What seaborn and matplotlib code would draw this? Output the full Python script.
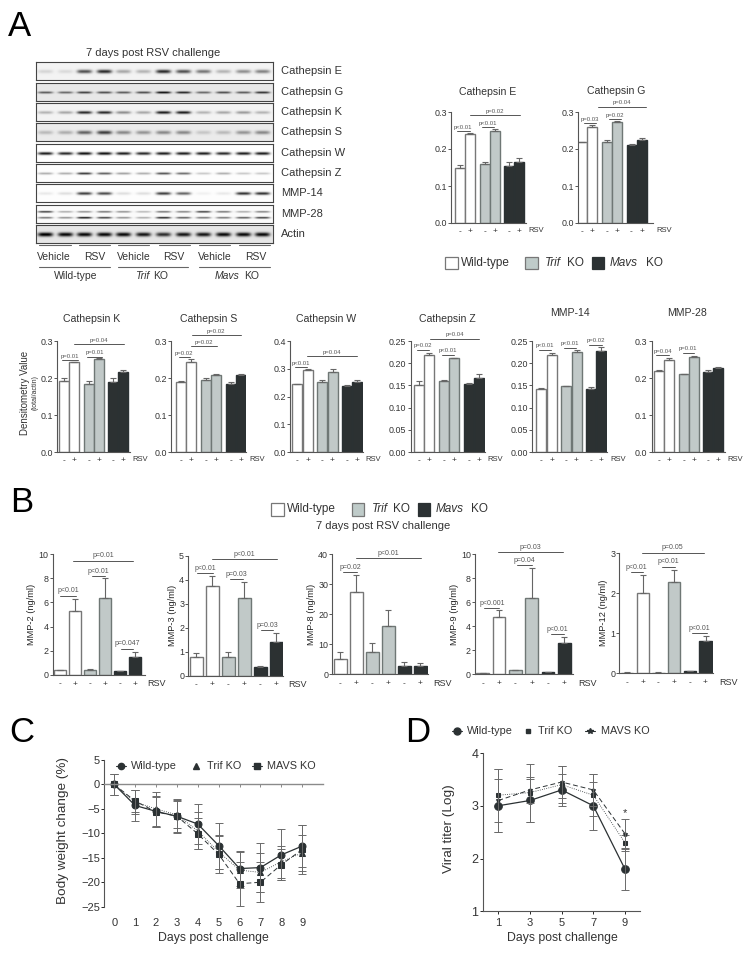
"""Multi-panel figure: cathepsin/MMP densitometry, ELISA, weight and viral titer."""

import matplotlib.pyplot as plt
from matplotlib.patches import Rectangle
import numpy as np
import pandas as pd
import seaborn as sns

W, H = 753, 956
TEXT = "#333333"
AXIS = "#555555"
WHITE, GREY, DARK = "#ffffff", "#bfcbc9", "#2b3133"
EDGES = {"Wild-type": "#777777", "Trif KO": "#6f7775", "Mavs KO": "#2b3133"}
PALETTE = {"Wild-type": WHITE, "Trif KO": GREY, "Mavs KO": DARK}

# blot lanes
BLOT_LABELS = ["Cathepsin E", "Cathepsin G", "Cathepsin K", "Cathepsin S", "Cathepsin W",
               "Cathepsin Z", "MMP-14", "MMP-28", "Actin"]
BLOT_E = [.12, .10, .65, .80, .30, .25, .80, .65, .50, .25, .40, .45]
BLOT_G = [.55, .50, .65, .60, .55, .60, .85, .75, .50, .60, .55, .70]
BLOT_K = [.25, .30, .80, .80, .40, .30, .85, .85, .25, .30, .35, .25]
BLOT_S = [.20, .25, .55, .70, .40, .35, .40, .40, .15, .20, .35, .40]
BLOT_W = [.90, .85, .95, .95, .90, .85, .90, .90, .90, .85, .90, .90]
BLOT_Z = [.30, .30, .75, .60, .35, .30, .65, .55, .20, .30, .20, .20]
BLOT_14 = [.08, .12, .75, .70, .12, .12, .75, .60, .05, .08, .80, .80]
BLOT_28_UP = [.70, .30, .40, .50, .40, .25, .50, .45, .70, .50, .30, .45]
BLOT_28_LOW = [.50, .40, .85, .70, .40, .30, .80, .60, .50, .50, .60, .70]
BLOT_ACTIN = [.95, .90, .90, .90, .90, .85, .75, .85, .85, .90, .90, .90]
BLOT_BG = [.95, .91, .95, .92, 1.0, .99, .99, .98, .90]

# densitometry
GROUPS = ["Wild-type", "Wild-type", "Trif KO", "Trif KO", "Mavs KO", "Mavs KO"]
TREATMENT = ["-", "+", "-", "+", "-", "+"]
CAT_E = [.150, .240, .160, .250, .155, .165]
CAT_E_ERR = [.006, .004, .004, .005, .009, .010]
CAT_G = [.218, .260, .219, .272, .212, .225]
CAT_G_ERR = [.002, .004, .005, .003, .001, .006]
CAT_K = [.193, .243, .185, .251, .189, .215]
CAT_K_ERR = [.006, .001, .006, .002, .011, .006]
CAT_S = [.190, .243, .194, .208, .184, .207]
CAT_S_ERR = [.001, .008, .005, .002, .004, .004]
CAT_W = [.245, .295, .253, .288, .238, .253]
CAT_W_ERR = [.001, .004, .008, .012, .002, .008]
CAT_Z = [.152, .219, .161, .211, .153, .166]
CAT_Z_ERR = [.007, .005, .002, .001, .003, .010]
MMP14 = [.143, .219, .148, .226, .141, .228]
MMP14_ERR = [.0005, .005, .001, .004, .005, .008]
MMP28 = [.218, .250, .210, .258, .216, .226]
MMP28_ERR = [.004, .005, .0005, .002, .005, .004]

# ELISA
MMP2 = [.40, 5.30, .45, 6.40, .30, 1.45]
MMP2_ERR = [.05, 1.0, .08, 1.65, .05, .45]
MMP3 = [.80, 3.72, .80, 3.25, .38, 1.40]
MMP3_ERR = [.13, .45, .17, .67, .03, .37]
MMP8 = [5.0, 27.5, 7.3, 16.2, 2.7, 2.7]
MMP8_ERR = [2.5, 5.7, 3.1, 5.1, 1.4, 1.1]
MMP9 = [.10, 4.75, .35, 6.40, .17, 2.65]
MMP9_ERR = [.02, .60, .05, 2.45, .05, .50]
MMP12 = [.02, 2.02, .02, 2.28, .05, .80]
MMP12_ERR = [.005, .44, .005, .30, .01, .14]

# body weight
DAYS_C = [0, 1, 2, 3, 4, 5, 6, 7, 8, 9]
WEIGHT_WT = [0, -4.3, -5.5, -6.5, -8.1, -12.5, -17.2, -17.0, -14.4, -12.6]
WEIGHT_WT_ERR = [2.1, 3.2, 3.1, 3.3, 4.1, 4.7, 3.6, 5.0, 5.2, 4.3]
WEIGHT_TRIF = [0, -3.6, -5.0, -6.2, -9.5, -13.8, -17.5, -18.0, -15.8, -14.0]
WEIGHT_TRIF_ERR = [2.1, 2.5, 3.5, 2.8, 3.8, 3.5, 3.6, 4.0, 3.3, 3.6]
WEIGHT_MAVS = [0, -3.4, -5.6, -6.5, -10.1, -14.3, -20.3, -20.0, -16.4, -13.3]
WEIGHT_MAVS_ERR = [2.1, 2.3, 3.0, 3.5, 3.2, 3.8, 4.5, 4.1, 3.2, 5.0]

# viral titer
DAYS_D = [1, 3, 5, 7, 9]
TITER_WT = [3.0, 3.1, 3.3, 3.0, 1.8]
TITER_WT_ERR = [.50, .40, .30, .45, .40]
TITER_TRIF = [3.2, 3.25, 3.4, 3.2, 2.3]
TITER_TRIF_ERR = [.50, .55, .35, .40, .15]
TITER_MAVS = [3.1, 3.3, 3.45, 3.3, 2.47]
TITER_MAVS_ERR = [.60, .25, .30, .30, .28]

PATTERN_A = np.array([0, 10.3, 25, 35.2, 49.5, 59.7])

sns.set_style("ticks")
plt.rcParams["font.family"] = ["Liberation Sans", "DejaVu Sans"]
plt.rcParams["axes.edgecolor"] = AXIS
plt.rcParams["text.color"] = TEXT
plt.rcParams["xtick.labelcolor"] = TEXT
plt.rcParams["ytick.labelcolor"] = TEXT

fig = plt.figure(figsize=(W / 100, H / 100), dpi=100, facecolor="white")


def px_axes(left, top, right, bottom):
    return fig.add_axes([left / W, 1 - bottom / H, (right - left) / W, (bottom - top) / H])


def label(x, y, s, size=8, ha="left", va="center", **kw):
    fig.text(x / W, 1 - y / H, s, fontsize=size, ha=ha, va=va, **kw)


def swatch(x0, y0, x1, y1, color, edge):
    fig.add_artist(Rectangle((x0 / W, 1 - y1 / H), (x1 - x0) / W, (y1 - y0) / H, facecolor=color,
                             edgecolor=edge, lw=0.9, transform=fig.transFigure))


def hline(x0, x1, y, color="#666666", lw=0.8):
    fig.add_artist(plt.Line2D([x0 / W, x1 / W], [1 - y / H, 1 - y / H], color=color, lw=lw,
                              transform=fig.transFigure))


def marker_key(x, y, marker, size):
    fig.add_artist(plt.Line2D([x / W], [1 - y / H], color="#2b3133", marker=marker, markersize=size,
                              transform=fig.transFigure))


def strip_image(bands, bg, heights, thick):
    # one blot strip, soft bands around each lane centre
    rows, cols = 18, 237
    lane_x = np.array([9, 29, 48, 68, 87, 107, 127, 147, 167, 187, 207, 226])
    yy, xx = np.mgrid[0:rows, 0:cols]
    img = np.full((rows, cols), float(bg))
    for values, frac in zip(bands, heights):
        for cx, v in zip(lane_x, values):
            img -= v * 0.95 * np.exp(-((xx - cx) / 7.5) ** 4 - ((yy - rows * frac) / thick) ** 2)
    return np.clip(img, 0, 1)


def draw_blot():
    tops = [62, 83, 103, 123, 144, 164, 184, 205, 225]
    series = [BLOT_E, BLOT_G, BLOT_K, BLOT_S, BLOT_W, BLOT_Z, BLOT_14, None, BLOT_ACTIN]
    thick = [1.9, 1.2, 1.5, 1.9, 1.5, 1.2, 1.5, 1.0, 2.1]
    for i, name in enumerate(BLOT_LABELS):
        ax = px_axes(36, tops[i], 273, tops[i] + 18)
        if series[i] is None:
            img = strip_image([BLOT_28_UP, BLOT_28_LOW], BLOT_BG[i], [.35, .68], thick[i])
        else:
            img = strip_image([series[i]], BLOT_BG[i], [.5], thick[i])
        sns.heatmap(img, ax=ax, cmap="gray", vmin=0, vmax=1, cbar=False,
                    xticklabels=False, yticklabels=False)
        for spine in ax.spines.values():
            spine.set_visible(True)
            spine.set_color("#444444")
            spine.set_linewidth(0.8)
        label(281, tops[i] + 9, name, size=8)

    label(153, 53, "7 days post RSV challenge", size=8, ha="center")
    for x0, x1 in [(39, 71), (79, 110), (118, 149), (159, 190), (199, 230), (239, 270)]:
        hline(x0, x1, 245)
    for cx, s in zip([54, 95, 134, 174, 215, 256], ["Vehicle", "RSV"] * 3):
        label(cx, 257, s, size=7.5, ha="center")
    for x0, x1 in [(39, 110), (118, 188), (199, 270)]:
        hline(x0, x1, 267)
    label(76, 276, "Wild-type", size=7.5, ha="center")
    label(135, 276, "Trif", size=7.5, style="italic")
    label(153, 276, "KO", size=7.5)
    label(215, 276, "Mavs", size=7.5, style="italic")
    label(244, 276, "KO", size=7.5)


def bar_panel(left, top, bottom, x_end, rsv_x, centers, width, values, errors, ylim, yticks, fmt,
              pvals, tick_size=6.4, rsv_size=5.5, p_size=4.3, rsv_drop=7.5, x_pad=3.5, ylabel=None):
    ax = px_axes(left, top, left + x_end, bottom)
    frame = pd.DataFrame({"x": centers, "value": values, "group": GROUPS})
    sns.barplot(data=frame, x="x", y="value", hue="group", palette=PALETTE, native_scale=True,
                dodge=False, width=width / np.min(np.diff(centers)), errorbar=None, legend=False,
                linewidth=1.0, edgecolor="#777777", ax=ax)
    for container, group in zip(ax.containers, PALETTE):
        for patch in container:
            patch.set_edgecolor(EDGES[group])
    ax.errorbar(centers, values, yerr=[np.zeros(6), errors], fmt="none", ecolor="#666666",
                elinewidth=0.8, capsize=2, capthick=0.8)
    ax.set_xlim(0, x_end)
    ax.set_ylim(*ylim)
    ax.set_xticks(centers, TREATMENT)
    ax.set_yticks(yticks, [fmt % t for t in yticks])
    ax.tick_params(axis="x", length=0, pad=x_pad, labelsize=6)
    ax.tick_params(axis="y", length=2, width=0.7, pad=1, labelsize=tick_size, color=AXIS)
    ax.set_xlabel("")
    ax.set_ylabel(ylabel or "", fontsize=6.7, labelpad=1.5)
    for spine in ["left", "bottom"]:
        ax.spines[spine].set_linewidth(0.8)
    sns.despine(ax=ax)
    for text, x0, x1, y in pvals:
        ax.plot([x0, x1], [y, y], color="#555555", lw=0.7, clip_on=False)
        ax.annotate(text, ((x0 + x1) / 2, y), xytext=(0, 1), textcoords="offset points",
                    ha="center", va="bottom", fontsize=p_size, color="#555555",
                    annotation_clip=False)
    label(left + rsv_x, bottom + rsv_drop, "RSV", size=rsv_size)
    return ax


def draw_densitometry():
    ticks3 = [0, .1, .2, .3]
    ticks4 = [0, .1, .2, .3, .4]
    ticks25 = [0, .05, .10, .15, .20, .25]
    panels = [
        (451, 112, 223, 75, 77, 8.7, CAT_E, CAT_E_ERR, (0, .3), ticks3, "%.1f",
         [("p<0.01", 6, 18.7, .248), ("p<0.01", 31.3, 43.3, .259), ("p=0.02", 19.3, 69.3, .292)]),
        (578, 112, 223, 75, 78, 4.0, CAT_G, CAT_G_ERR, (0, .3), ticks3, "%.1f",
         [("p=0.03", 5.7, 18.3, .27), ("p=0.02", 31, 43.3, .281), ("p=0.04", 20, 68.3, .314)]),
        (57, 341, 452, 73, 75.7, 6.7, CAT_K, CAT_K_ERR, (0, .3), ticks3, "%.1f",
         [("p=0.01", 5, 21, .248), ("p=0.01", 30, 45, .258), ("p=0.04", 17.3, 67.3, .291)]),
        (171, 341, 452, 75, 78.3, 10, CAT_S, CAT_S_ERR, (0, .3), ticks3, "%.1f",
         [("p=0.02", 7.7, 19, .257), ("p=0.02", 19.7, 45.7, .286), ("p=0.02", 20.7, 69.7, .315)]),
        (290, 341, 452, 73, 75, 7.3, CAT_W, CAT_W_ERR, (0, .4), ticks4, "%.1f",
         [("p<0.01", 5, 16.7, .306), ("p=0.04", 17.3, 66.7, .346)]),
        (410.7, 341, 452, 74, 76.6, 8.3, CAT_Z, CAT_Z_ERR, (0, .25), ticks25, "%.2f",
         [("p=0.02", 6, 18, .23), ("p<0.01", 31.3, 43.3, .219), ("p=0.04", 19.3, 68.3, .255)]),
        (532.3, 341, 452, 75, 77.7, 9, MMP14, MMP14_ERR, (0, .25), ticks25, "%.2f",
         [("p<0.01", 6.7, 18.3, .23), ("p<0.01", 31.7, 43.7, .235), ("p=0.02", 57, 69.3, .242)]),
        (651.7, 341, 452, 73, 75.7, 7, MMP28, MMP28_ERR, (0, .3), ticks3, "%.1f",
         [("p=0.04", 4.3, 17.3, .261), ("p=0.01", 31, 42.3, .268)]),
    ]
    for left, top, bottom, x_end, rsv_x, offset, vals, errs, ylim, ticks, fmt, pvals in panels:
        bar_panel(left, top, bottom, x_end, rsv_x, offset + PATTERN_A, 10, vals, errs, ylim, ticks,
                  fmt, pvals)

    titles = [(488, 92, "Cathepsin E"), (616, 91, "Cathepsin G"), (92, 319, "Cathepsin K"),
              (209, 319, "Cathepsin S"), (326, 319, "Cathepsin W"), (447, 319, "Cathepsin Z"),
              (570, 313, "MMP-14"), (687, 313, "MMP-28")]
    for x, y, s in titles:
        label(x, y, s, size=7.6, ha="center")
    label(25, 393, "Densitometry Value", size=7, ha="center", rotation=90)
    label(35, 393, "(total/actin)", size=5, ha="center", rotation=90)

    swatch(445, 257, 458, 269, WHITE, "#777777")
    label(461, 263, "Wild-type", size=8.5)
    swatch(525, 257, 538, 269, GREY, "#777777")
    label(545, 263, "Trif", size=8.5, style="italic")
    label(567, 263, "KO", size=8.5)
    swatch(592, 257, 604, 269, DARK, DARK)
    label(610, 263, "Mavs", size=8.5, style="italic")
    label(646, 263, "KO", size=8.5)


def draw_elisa():
    panels = [
        (52.7, 554, 675, 92.3, 94.3, 7.3, 15, 11.5, MMP2, MMP2_ERR, (0, 10), [0, 2, 4, 6, 8, 10], "MMP-2 (ng/ml)",
         [("p<0.01", 7.3, 23.3, 6.55), ("p<0.01", 39, 52.3, 8.18), ("p=0.047", 68.3, 80.7, 2.18),
          ("p=0.01", 20.7, 80, 9.45)]),
        (188.3, 555.7, 675.7, 95, 100, 8, 16, 12.5, MMP3, MMP3_ERR, (0, 5), [0, 1, 2, 3, 4, 5], "MMP-3 (ng/ml)",
         [("p<0.01", 9, 25, 4.26), ("p=0.03", 41.7, 55, 4.01), ("p=0.03", 72.3, 85, 1.89),
          ("p<0.01", 23.3, 88.3, 4.85)]),
        (332.3, 554.3, 674.3, 96, 101, 8, 16, 12.5, MMP8, MMP8_ERR, (0, 40), [0, 10, 20, 30, 40], "MMP-8 (ng/ml)",
         [("p=0.02", 11, 24.3, 34), ("p<0.01", 23.7, 89, 38.8)]),
        (475, 554.3, 674.3, 98, 103, 7.7, 16.3, 12.7, MMP9, MMP9_ERR, (0, 10), [0, 2, 4, 6, 8, 10], "MMP-9 (ng/ml)",
         [("p<0.001", 9.3, 24.3, 5.5), ("p=0.04", 42, 57.3, 9.08), ("p<0.01", 76, 89.3, 3.33),
          ("p=0.03", 22.7, 88.3, 10.17)]),
        (619.3, 553.3, 673.3, 94, 100, 7.7, 15.7, 12.4, MMP12, MMP12_ERR, (0, 3), [0, 1, 2, 3], "MMP-12 (ng/ml)",
         [("p<0.01", 11.3, 23.3, 2.525), ("p<0.01", 42.7, 56, 2.67), ("p<0.01", 72.3, 87.3, 1.0),
          ("p=0.05", 22.3, 84.7, 3.02)]),
    ]
    for left, top, bottom, x_end, rsv_x, offset, step, width, vals, errs, ylim, ticks, name, pvals in panels:
        centers = offset + step * np.arange(6)
        bar_panel(left, top, bottom, x_end, rsv_x, centers, width, vals, errs, ylim, ticks, "%g",
                  pvals, tick_size=6.4, rsv_size=6.5, p_size=5, rsv_drop=9, x_pad=4, ylabel=name)

    swatch(271, 503, 284, 516, WHITE, "#777777")
    label(287, 509, "Wild-type", size=8.5)
    swatch(352, 503, 364, 516, GREY, "#777777")
    label(372, 509, "Trif", size=8.5, style="italic")
    label(393, 509, "KO", size=8.5)
    swatch(418, 503, 430, 516, DARK, DARK)
    label(436, 509, "Mavs", size=8.5, style="italic")
    label(471, 509, "KO", size=8.5)
    label(383, 526, "7 days post RSV challenge", size=8, ha="center")


def line_series(ax, days, values, errors, marker, style, size, width=0.9, color="#2b3133"):
    sns.lineplot(x=days, y=values, color=color, marker=marker, linestyle=style, markersize=size,
                 markeredgecolor=color, linewidth=width, errorbar=None, ax=ax, legend=False)
    ax.errorbar(days, values, yerr=errors, fmt="none", ecolor="#6a6a6a", elinewidth=0.7,
                capsize=3, capthick=0.7)


def draw_weight():
    ax = px_axes(104, 760, 322.7, 906.7)
    line_series(ax, DAYS_C, WEIGHT_WT, WEIGHT_WT_ERR, "o", "-", 5)
    line_series(ax, DAYS_C, WEIGHT_TRIF, WEIGHT_TRIF_ERR, "^", ":", 4.5, width=0.6)
    line_series(ax, DAYS_C, WEIGHT_MAVS, WEIGHT_MAVS_ERR, "s", (0, (5, 3)), 4.5, width=0.7)
    ax.set_xlim(-0.49, 9.98)
    ax.set_ylim(-25, 5)
    ax.set_xticks(DAYS_C)
    ax.set_yticks([5, 0, -5, -10, -15, -20, -25])
    ax.spines["bottom"].set_position(("data", 0))
    ax.spines["bottom"].set_color("#8a8a8a")
    ax.spines["bottom"].set_linewidth(1.0)
    ax.tick_params(axis="x", length=2, width=0.7, direction="out", pad=94.5, labelsize=8, color="#8a8a8a")
    ax.tick_params(axis="y", length=2, width=0.7, pad=1, labelsize=8)
    ax.set_xlabel("")
    ax.set_ylabel("")
    sns.despine(ax=ax)
    label(63, 831, "Body weight change (%)", size=9.7, ha="center", rotation=90)
    label(213, 938, "Days post challenge", size=8.8, ha="center")

    for x, marker, size in [(121, "o", 4.5), (196, "^", 4.5), (257, "s", 4.5)]:
        marker_key(x, 766, marker, size)
    for x0, x1 in [(116, 126), (252, 262)]:
        hline(x0, x1, 766, color="#2b3133")
    label(131, 766, "Wild-type", size=7.8)
    label(207, 766, "Trif KO", size=7.8)
    label(267, 766, "MAVS KO", size=7.8)


def draw_titer():
    ax = px_axes(482.7, 753, 640, 911.3)
    line_series(ax, DAYS_D, TITER_WT, TITER_WT_ERR, "o", "-", 5.5)
    line_series(ax, DAYS_D, TITER_TRIF, TITER_TRIF_ERR, "s", ":", 3.2, width=0.6)
    line_series(ax, DAYS_D, TITER_MAVS, TITER_MAVS_ERR, "*", (0, (5, 3)), 3.5, width=0.7)
    ax.set_xlim(0.015, 9.95)
    ax.set_ylim(1, 4)
    ax.set_xticks(DAYS_D)
    ax.set_yticks([1, 2, 3, 4])
    ax.tick_params(axis="x", length=2, width=0.7, pad=2.5, labelsize=8)
    ax.tick_params(axis="y", length=2, width=0.7, pad=1, labelsize=9)
    ax.set_xlabel("")
    ax.set_ylabel("")
    sns.despine(ax=ax)
    ax.text(9, 2.86, "*", ha="center", va="center", fontsize=8)
    label(449, 829, "Viral titer (Log)", size=9.7, ha="center", rotation=90)
    label(562, 938, "Days post challenge", size=8.8, ha="center")

    for x, marker, size in [(457, "o", 5), (528, "s", 3), (590, "*", 4)]:
        marker_key(x, 731, marker, size)
    for x0, x1 in [(452, 462), (585, 595)]:
        hline(x0, x1, 731, color="#2b3133")
    label(467, 731, "Wild-type", size=7.8)
    label(538, 731, "Trif KO", size=7.8)
    label(601, 731, "MAVS KO", size=7.8)


draw_blot()
draw_densitometry()
draw_elisa()
draw_weight()
draw_titer()

for x, y, s in [(8, 36, "A"), (10, 512, "B"), (9, 742, "C"), (405, 742, "D")]:
    label(x, y, s, size=25, va="baseline", color="black")

fig.savefig("out.png", dpi=100)
plt.close(fig)
